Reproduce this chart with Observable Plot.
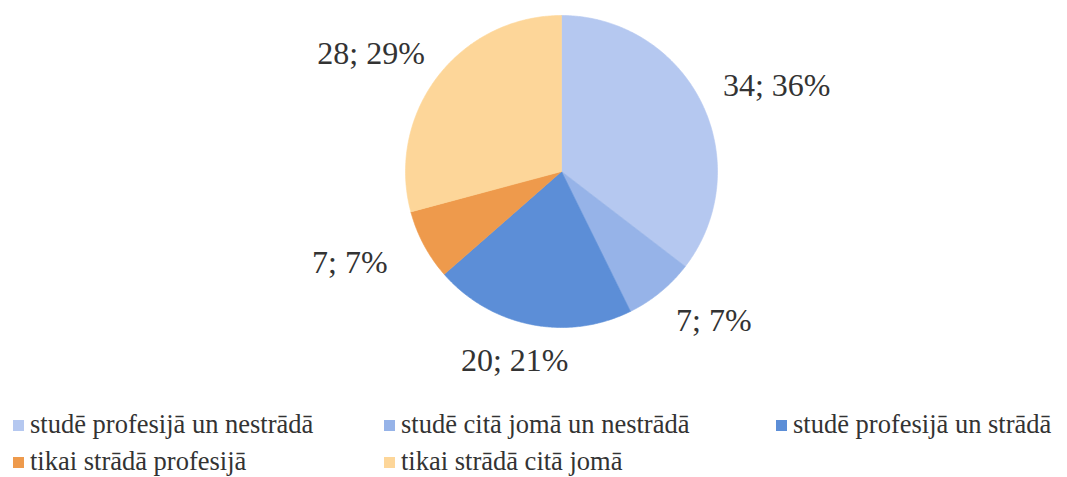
<!DOCTYPE html>
<html>
<head>
<meta charset="utf-8">
<script src="https://cdn.jsdelivr.net/npm/d3@7"></script>
<script src="https://cdn.jsdelivr.net/npm/@observablehq/plot@0.6"></script>
<style>
  html, body { margin: 0; padding: 0; background: #fff; }
  #wrap { position: relative; width: 1067px; height: 477px; overflow: hidden; }
  #legend { position: absolute; left: 0; top: 406px; width: 1067px; font-family: "Liberation Serif", "Times New Roman", "DejaVu Serif", serif; font-size: 26.5px; color: #333; }
  .item { position: absolute; height: 37px; line-height: 37px; white-space: nowrap; }
  .sw { display: inline-block; width: 11px; height: 11px; margin-right: 6px; vertical-align: middle; position: relative; top: -1px; }
</style>
</head>
<body>
<div id="wrap">
  <div id="chart"></div>
  <div id="legend"></div>
</div>
<script>
const categories = [
  "studē profesijā un nestrādā",
  "studē citā jomā un nestrādā",
  "studē profesijā un strādā",
  "tikai strādā profesijā",
  "tikai strādā citā jomā"
];
const counts = [34, 7, 20, 7, 28];
const percentLabels = ["36%", "7%", "21%", "7%", "29%"];
const colors = ["#b5c8f0", "#96b3e8", "#5c8ed7", "#ee9a4c", "#fdd699"];

const W = 1067, H = 405;
const cx = 561, cy = 171, R = 156;
const labelRx = 240, labelRy = 193;

const pie = d3.pie().sort(null).value(d => d)(counts);

// slice polygons (angles clockwise from top)
const pts = [];
pie.forEach((p, i) => {
  const n = Math.max(4, Math.ceil((p.endAngle - p.startAngle) / 0.01));
  pts.push({cat: categories[i], x: 0, y: 0});
  for (let j = 0; j <= n; j++) {
    const a = p.startAngle + (p.endAngle - p.startAngle) * j / n;
    pts.push({cat: categories[i], x: R * Math.sin(a), y: -R * Math.cos(a)});
  }
  pts.push({cat: categories[i], x: 0, y: 0});
});

// labels outside end
const labels = pie.map((p, i) => {
  const a = (p.startAngle + p.endAngle) / 2;
  return {text: `${counts[i]}; ${percentLabels[i]}`, x: labelRx * Math.sin(a), y: -labelRy * Math.cos(a)};
});

const plot = Plot.plot({
  width: W, height: H,
  margin: 0,
  x: {domain: [-cx, W - cx], range: [0, W], axis: null},
  y: {domain: [-cy, H - cy], range: [0, H], axis: null},
  color: {domain: categories, range: colors},
  style: {background: "transparent"},
  marks: [
    Plot.line(pts, {x: "x", y: "y", z: "cat", fill: "cat", stroke: "cat", strokeWidth: 0.6, curve: "linear"}),
    Plot.text(labels, {x: "x", y: "y", text: "text", fontSize: 32, fill: "#333", fontFamily: "'Liberation Serif', 'Times New Roman', 'DejaVu Serif', serif", textAnchor: "middle", lineAnchor: "middle"})
  ]
});
document.getElementById("chart").appendChild(plot);

// legend
const colX = [13, 384, 776];
const leg = document.getElementById("legend");
categories.forEach((c, i) => {
  const row = Math.floor(i / 3), col = i % 3;
  const d = document.createElement("div");
  d.className = "item";
  d.style.left = colX[col] + "px";
  d.style.top = (row * 37) + "px";
  const sw = document.createElement("span");
  sw.className = "sw";
  sw.style.background = colors[i];
  d.appendChild(sw);
  d.appendChild(document.createTextNode(c));
  leg.appendChild(d);
});
</script>
</body>
</html>
